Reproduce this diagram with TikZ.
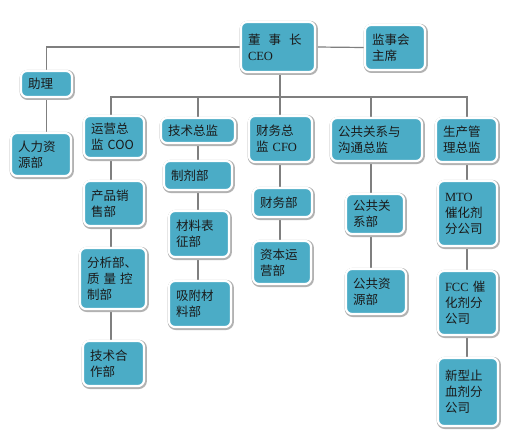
\documentclass[tikz,border=0pt]{standalone}
\usepackage{fontspec}
\newfontfamily\cjk{Noto Sans CJK SC}
\newfontfamily\lat{Liberation Serif}
\definecolor{boxfill}{HTML}{4BACC6}
\definecolor{linec}{HTML}{7F7F7F}
\definecolor{txt}{HTML}{1A1A1A}
\pgfdeclarelayer{paper}
\pgfdeclarelayer{lines}
\pgfsetlayers{paper,lines,main}
\tikzset{
  orgbox/.style={rectangle, rounded corners=6pt, fill=boxfill, draw=white,
    line width=2.2pt, inner xsep=7pt, inner ysep=2pt, align=left, text=txt,
    font=\cjk\fontsize{12.5}{16}\selectfont,
    preaction={draw=black!30, line width=4.2pt,
      transform canvas={shift={(0.8pt,-0.9pt)}}}},
  conn/.style={draw=linec, line width=1.2pt}
}
\newcommand\orgbx[6]{%
  \pgfmathsetmacro\bxw{#4-#2}%
  \pgfmathsetmacro\bxh{#5-#3}%
  \pgfmathsetmacro\bxt{#4-#2-14}%
  \node[orgbox, minimum width=\bxw pt, minimum height=\bxh pt, text width=\bxt pt]
    (#1) at ({(#2+#4)/2},{(#3+#5)/2}) {#6};}
\begin{document}
\begin{tikzpicture}[x=1pt,y=-1pt]
\begin{pgfonlayer}{paper}
\fill[white] (0,0) rectangle (508,433);
\end{pgfonlayer}
\useasboundingbox (0,0) rectangle (508,433);
% column coordinates
\coordinate (c1) at (111,0);
\coordinate (c2) at (198,0);
\coordinate (c3) at (280,0);
\coordinate (c4) at (371,0);
\coordinate (c5) at (467,0);
\coordinate (bus) at (280,97);
% boxes
\orgbx{ceo}{241}{22}{315}{72}{董\hspace{8pt}事\hspace{8pt}长\\{\lat CEO}}
\orgbx{jsh}{365}{25}{425}{70}{监事会\\主席}
\orgbx{zl}{21}{71}{72}{97}{助理}
\orgbx{hr}{11}{133}{71}{176}{人力资\\源部}
\orgbx{coo}{84}{116}{144}{158}{运营总\\监 COO}
\orgbx{prod}{84}{181}{144}{226}{产品销\\售部}
\orgbx{fx}{80}{248}{146}{309}{分析部、\\质\hspace{4pt}量\hspace{4pt}控\\制部}
\orgbx{jshz}{83}{341}{144}{386}{技术合\\作部}
\orgbx{tech}{161}{118}{235}{143}{技术总监}
\orgbx{zj}{164}{161}{232}{190}{制剂部}
\orgbx{clb}{169}{211}{229}{257}{材料表\\征部}
\orgbx{xf}{169}{281}{231}{327}{吸附材\\料部}
\orgbx{cfo}{249}{116}{312}{162}{财务总\\监 {\lat CFO}}
\orgbx{cw}{253}{188}{312}{217}{财务部}
\orgbx{zb}{253}{241}{311}{284}{资本运\\营部}
\orgbx{gg}{331}{118}{422}{161}{公共关系与\\沟通总监}
\orgbx{ggx}{346}{194}{404}{234}{公共关\\系部}
\orgbx{ggz}{346}{269}{406}{314}{公共资\\源部}
\orgbx{sc}{436}{118}{497}{162}{生产管\\理总监}
\orgbx{mto}{438}{181}{497}{246}{{\lat MTO}\\催化剂\\分公司}
\orgbx{fcc}{438}{271}{497}{335}{{\lat FCC} 催\\化剂分\\公司}
\orgbx{xx}{438}{358}{498}{426}{新型止\\血剂分\\公司}
% connectors (behind boxes)
\begin{pgfonlayer}{lines}
\path[conn] (ceo.west) -| (zl.north);
\path[conn] (ceo.east) -- (jsh.west);
\path[conn] (zl.south) -- (zl.south |- hr.north);
\path[conn] (ceo.south -| c3) -- (bus);
\path[conn] (coo.north -| c1) |- (bus);
\path[conn] (tech.north -| c2) |- (bus);
\path[conn] (cfo.north -| c3) -- (bus);
\path[conn] (gg.north -| c4) |- (bus);
\path[conn] (sc.north -| c5) |- (bus);
\path[conn] (coo.south -| c1) -- (prod.north -| c1);
\path[conn] (prod.south -| c1) -- (fx.north -| c1);
\path[conn] (fx.south -| c1) -- (jshz.north -| c1);
\path[conn] (tech.south -| c2) -- (zj.north -| c2);
\path[conn] (zj.south -| c2) -- (clb.north -| c2);
\path[conn] (clb.south -| c2) -- (xf.north -| c2);
\path[conn] (cfo.south -| c3) -- (cw.north -| c3);
\path[conn] (cw.south -| c3) -- (zb.north -| c3);
\path[conn] (gg.south -| c4) -- (ggx.north -| c4);
\path[conn] (ggx.south -| c4) -- (ggz.north -| c4);
\path[conn] (sc.south -| c5) -- (mto.north -| c5);
\path[conn] (mto.south -| c5) -- (fcc.north -| c5);
\path[conn] (fcc.south -| c5) -- (xx.north -| c5);
\end{pgfonlayer}
\end{tikzpicture}
\end{document}
